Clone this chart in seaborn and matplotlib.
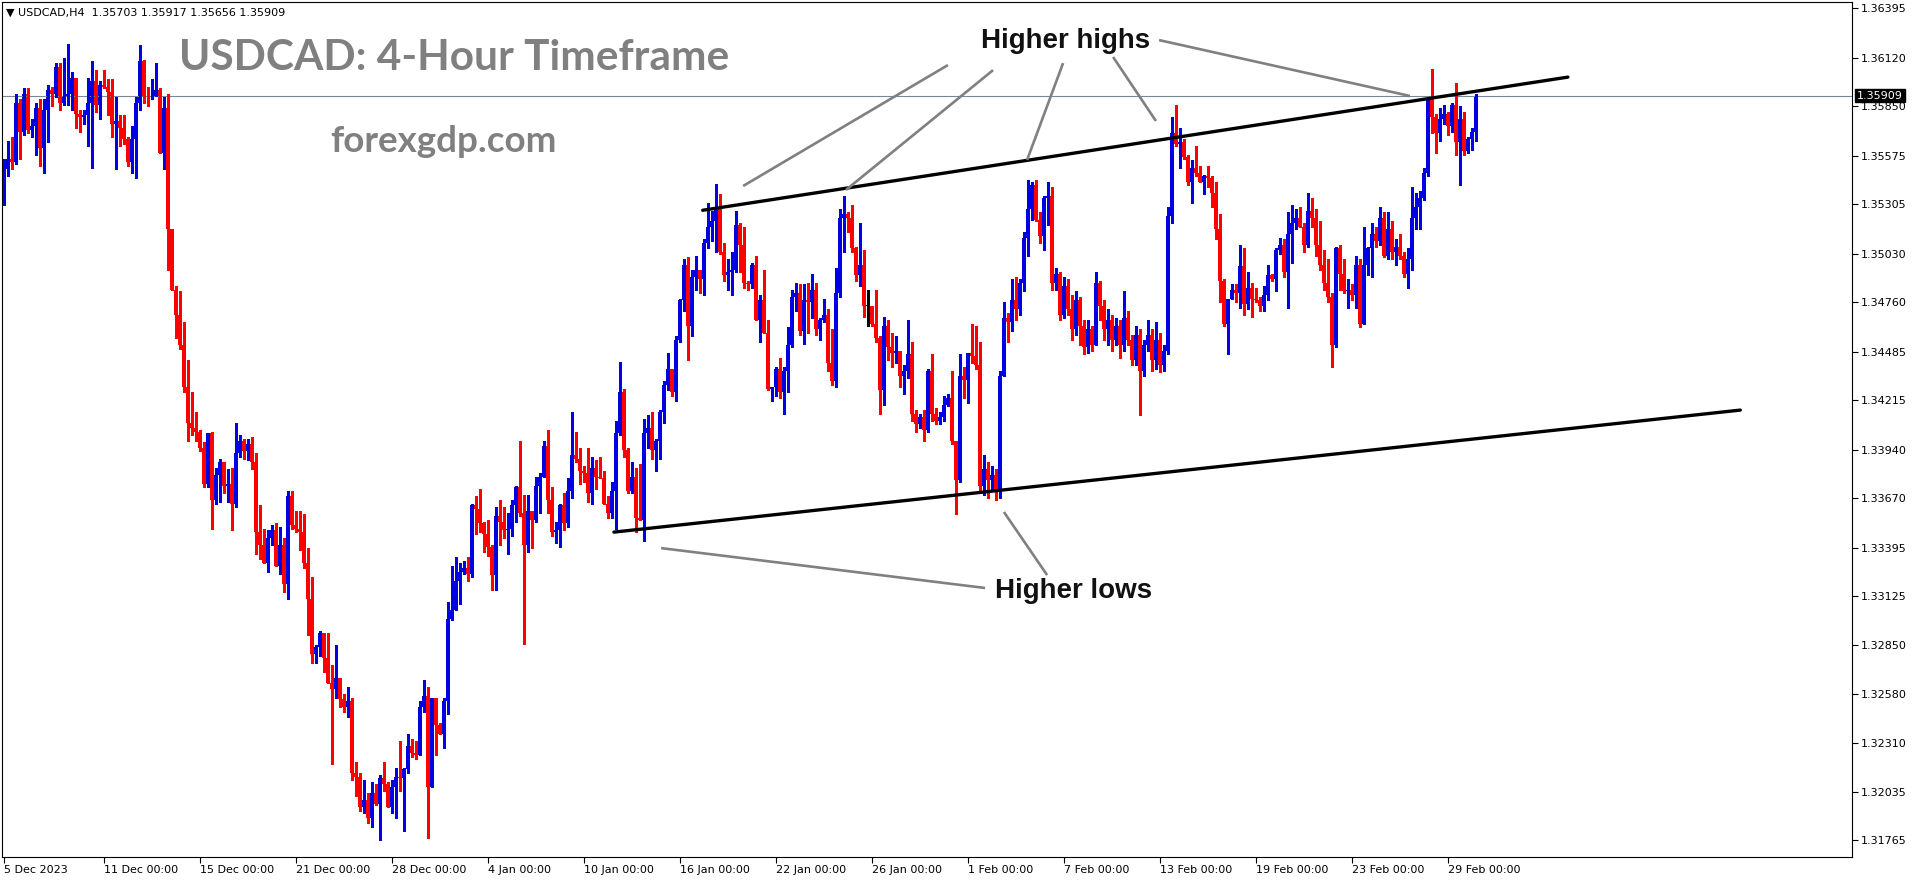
import numpy as np
import pandas as pd
import matplotlib
matplotlib.use("Agg")
import matplotlib.pyplot as plt
import matplotlib.transforms as mtransforms
import seaborn as sns

W, H = 1916, 884
sns.set_theme(style="white")
plt.rcParams['font.family'] = ['DejaVu Sans']

# USDCAD H4 candles (open = previous close)
first_open = 1.3536
closes = [
    1.3550, 1.3556, 1.3554, 1.3587, 1.3571, 1.3592, 1.3572, 1.3574, 1.3584, 1.3562,
    1.3583, 1.3594, 1.3592, 1.3607, 1.3587, 1.3591, 1.3592, 1.3601, 1.3581, 1.3579,
    1.3580, 1.3587, 1.3599, 1.3586, 1.3597, 1.3596, 1.3593, 1.3575, 1.3577, 1.3573,
    1.3567, 1.3554, 1.3567, 1.3587, 1.3610, 1.3591, 1.3590, 1.3591, 1.3594, 1.3559,
    1.3584, 1.3517, 1.3483, 1.3469, 1.3452, 1.3429, 1.3409, 1.3406, 1.3404, 1.3395,
    1.3375, 1.3403, 1.3366, 1.3380, 1.3387, 1.3374, 1.3375, 1.3364, 1.3392, 1.3399,
    1.3393, 1.3397, 1.3387, 1.3348, 1.3341, 1.3331, 1.3345, 1.3349, 1.3329, 1.3341,
    1.3319, 1.3368, 1.3352, 1.3350, 1.3348, 1.3331, 1.3311, 1.3280, 1.3284, 1.3292,
    1.3278, 1.3264, 1.3261, 1.3267, 1.3255, 1.3251, 1.3254, 1.3214, 1.3212, 1.3195,
    1.3199, 1.3189, 1.3203, 1.3197, 1.3211, 1.3208, 1.3195, 1.3206, 1.3212, 1.3211,
    1.3216, 1.3229, 1.3225, 1.3224, 1.3251, 1.3257, 1.3206, 1.3256, 1.3241, 1.3236,
    1.3254, 1.3300, 1.3305, 1.3321, 1.3326, 1.3328, 1.3325, 1.3363, 1.3361, 1.3353,
    1.3347, 1.3340, 1.3324, 1.3357, 1.3354, 1.3349, 1.3350, 1.3363, 1.3373, 1.3359,
    1.3341, 1.3360, 1.3355, 1.3374, 1.3379, 1.3396, 1.3366, 1.3348, 1.3349, 1.3363,
    1.3353, 1.3371, 1.3391, 1.3389, 1.3382, 1.3381, 1.3370, 1.3384, 1.3379, 1.3378,
    1.3364, 1.3359, 1.3371, 1.3403, 1.3426, 1.3394, 1.3371, 1.3379, 1.3356, 1.3355,
    1.3403, 1.3406, 1.3394, 1.3399, 1.3415, 1.3430, 1.3439, 1.3426, 1.3455, 1.3477,
    1.3497, 1.3463, 1.3490, 1.3494, 1.3489, 1.3509, 1.3518, 1.3521, 1.3528, 1.3504,
    1.3491, 1.3493, 1.3494, 1.3519, 1.3508, 1.3487, 1.3486, 1.3497, 1.3466, 1.3477,
    1.3459, 1.3428, 1.3429, 1.3439, 1.3426, 1.3438, 1.3452, 1.3479, 1.3481, 1.3460,
    1.3477, 1.3476, 1.3483, 1.3461, 1.3466, 1.3469, 1.3442, 1.3432, 1.3481, 1.3523,
    1.3525, 1.3523, 1.3506, 1.3491, 1.3497, 1.3474, 1.3474, 1.3464, 1.3456, 1.3427,
    1.3463, 1.3451, 1.3448, 1.3449, 1.3435, 1.3438, 1.3447, 1.3414, 1.3408, 1.3412,
    1.3405, 1.3438, 1.3414, 1.3410, 1.3412, 1.3419, 1.3423, 1.3399, 1.3377, 1.3435,
    1.3433, 1.3448, 1.3446, 1.3441, 1.3374, 1.3383, 1.3377, 1.3380, 1.3371, 1.3435,
    1.3467, 1.3465, 1.3477, 1.3472, 1.3487, 1.3512, 1.3528, 1.3541, 1.3522, 1.3513,
    1.3534, 1.3535, 1.3487, 1.3492, 1.3469, 1.3485, 1.3472, 1.3461, 1.3477, 1.3463,
    1.3451, 1.3461, 1.3452, 1.3487, 1.3474, 1.3461, 1.3466, 1.3455, 1.3463, 1.3452,
    1.3467, 1.3455, 1.3444, 1.3458, 1.3438, 1.3452, 1.3458, 1.3444, 1.3455, 1.3441,
    1.3449, 1.3524, 1.3570, 1.3564, 1.3565, 1.3557, 1.3543, 1.3551, 1.3548, 1.3543,
    1.3546, 1.3545, 1.3537, 1.3517, 1.3488, 1.3464, 1.3478, 1.3483, 1.3481, 1.3496,
    1.3475, 1.3484, 1.3478, 1.3477, 1.3474, 1.3480, 1.3491, 1.3489, 1.3505, 1.3508,
    1.3493, 1.3514, 1.3520, 1.3523, 1.3518, 1.3508, 1.3527, 1.3523, 1.3508, 1.3497,
    1.3487, 1.3479, 1.3452, 1.3506, 1.3492, 1.3482, 1.3483, 1.3480, 1.3497, 1.3464,
    1.3497, 1.3506, 1.3514, 1.3510, 1.3523, 1.3502, 1.3517, 1.3504, 1.3507, 1.3502,
    1.3492, 1.3500, 1.3523, 1.3529, 1.3534, 1.3548, 1.3589, 1.3579, 1.3570, 1.3578,
    1.3581, 1.3574, 1.3586, 1.3565, 1.3578, 1.3560, 1.3567, 1.3571, 1.35909,
]
highs = [
    1.3556, 1.3566, 1.3568, 1.3592, 1.3589, 1.3595, 1.3595, 1.3578, 1.3587, 1.3589,
    1.3589, 1.3597, 1.3596, 1.3609, 1.3609, 1.3612, 1.3620, 1.3604, 1.3601, 1.3583,
    1.3583, 1.3601, 1.3610, 1.3605, 1.3599, 1.3605, 1.3600, 1.3600, 1.3590, 1.3580,
    1.3580, 1.3568, 1.3574, 1.3590, 1.3619, 1.3611, 1.3596, 1.3600, 1.3609, 1.3595,
    1.3590, 1.3592, 1.3516, 1.3485, 1.3482, 1.3465, 1.3444, 1.3426, 1.3415, 1.3405,
    1.3398, 1.3403, 1.3404, 1.3384, 1.3389, 1.3387, 1.3383, 1.3384, 1.3409, 1.3402,
    1.3400, 1.3400, 1.3401, 1.3392, 1.3363, 1.3350, 1.3349, 1.3352, 1.3353, 1.3351,
    1.3345, 1.3371, 1.3371, 1.3360, 1.3360, 1.3358, 1.3339, 1.3323, 1.3285, 1.3293,
    1.3292, 1.3292, 1.3274, 1.3285, 1.3262, 1.3258, 1.3262, 1.3256, 1.3220, 1.3214,
    1.3210, 1.3203, 1.3209, 1.3208, 1.3213, 1.3220, 1.3209, 1.3210, 1.3217, 1.3232,
    1.3217, 1.3236, 1.3233, 1.3232, 1.3254, 1.3266, 1.3262, 1.3256, 1.3250, 1.3242,
    1.3256, 1.3309, 1.3329, 1.3334, 1.3331, 1.3332, 1.3334, 1.3364, 1.3368, 1.3372,
    1.3354, 1.3355, 1.3341, 1.3362, 1.3366, 1.3362, 1.3359, 1.3366, 1.3374, 1.3399,
    1.3369, 1.3369, 1.3357, 1.3379, 1.3381, 1.3399, 1.3405, 1.3373, 1.3354, 1.3364,
    1.3370, 1.3378, 1.3415, 1.3404, 1.3395, 1.3385, 1.3395, 1.3390, 1.3388, 1.3390,
    1.3382, 1.3368, 1.3376, 1.3410, 1.3443, 1.3428, 1.3395, 1.3387, 1.3384, 1.3386,
    1.3411, 1.3413, 1.3415, 1.3400, 1.3416, 1.3432, 1.3448, 1.3439, 1.3457, 1.3478,
    1.3500, 1.3501, 1.3494, 1.3502, 1.3491, 1.3511, 1.3531, 1.3527, 1.3542, 1.3536,
    1.3509, 1.3500, 1.3504, 1.3527, 1.3520, 1.3518, 1.3488, 1.3498, 1.3502, 1.3480,
    1.3494, 1.3466, 1.3429, 1.3440, 1.3445, 1.3440, 1.3462, 1.3483, 1.3487, 1.3486,
    1.3486, 1.3487, 1.3492, 1.3487, 1.3467, 1.3478, 1.3472, 1.3461, 1.3495, 1.3528,
    1.3535, 1.3526, 1.3530, 1.3507, 1.3520, 1.3505, 1.3483, 1.3473, 1.3483, 1.3457,
    1.3468, 1.3466, 1.3459, 1.3457, 1.3449, 1.3441, 1.3466, 1.3454, 1.3416, 1.3414,
    1.3416, 1.3439, 1.3447, 1.3417, 1.3415, 1.3424, 1.3425, 1.3438, 1.3399, 1.3447,
    1.3440, 1.3448, 1.3464, 1.3463, 1.3454, 1.3391, 1.3387, 1.3385, 1.3383, 1.3438,
    1.3476, 1.3470, 1.3489, 1.3490, 1.3489, 1.3515, 1.3544, 1.3543, 1.3544, 1.3526,
    1.3535, 1.3543, 1.3540, 1.3495, 1.3493, 1.3490, 1.3489, 1.3480, 1.3482, 1.3479,
    1.3466, 1.3466, 1.3463, 1.3493, 1.3488, 1.3477, 1.3472, 1.3469, 1.3467, 1.3466,
    1.3482, 1.3471, 1.3458, 1.3463, 1.3461, 1.3455, 1.3466, 1.3461, 1.3465, 1.3459,
    1.3452, 1.3529, 1.3579, 1.3586, 1.3573, 1.3567, 1.3558, 1.3555, 1.3563, 1.3552,
    1.3547, 1.3552, 1.3546, 1.3543, 1.3525, 1.3489, 1.3478, 1.3486, 1.3486, 1.3508,
    1.3506, 1.3493, 1.3487, 1.3484, 1.3479, 1.3485, 1.3497, 1.3492, 1.3506, 1.3512,
    1.3511, 1.3526, 1.3530, 1.3528, 1.3529, 1.3520, 1.3537, 1.3534, 1.3528, 1.3521,
    1.3505, 1.3500, 1.3481, 1.3507, 1.3508, 1.3500, 1.3489, 1.3486, 1.3502, 1.3500,
    1.3518, 1.3507, 1.3520, 1.3518, 1.3529, 1.3526, 1.3526, 1.3521, 1.3511, 1.3514,
    1.3504, 1.3506, 1.3540, 1.3537, 1.3538, 1.3551, 1.3590, 1.3606, 1.3581, 1.3584,
    1.3586, 1.3582, 1.3587, 1.3598, 1.3585, 1.3582, 1.3568, 1.3573, 1.35917,
]
lows = [
    1.3530, 1.3546, 1.3550, 1.3553, 1.3556, 1.3569, 1.3570, 1.3568, 1.3558, 1.3552,
    1.3548, 1.3565, 1.3585, 1.3590, 1.3583, 1.3586, 1.3586, 1.3583, 1.3573, 1.3571,
    1.3575, 1.3563, 1.3551, 1.3582, 1.3578, 1.3595, 1.3580, 1.3568, 1.3550, 1.3563,
    1.3564, 1.3552, 1.3548, 1.3545, 1.3583, 1.3587, 1.3585, 1.3589, 1.3591, 1.3559,
    1.3550, 1.3494, 1.3483, 1.3456, 1.3450, 1.3426, 1.3399, 1.3402, 1.3399, 1.3393,
    1.3373, 1.3373, 1.3350, 1.3364, 1.3365, 1.3370, 1.3365, 1.3349, 1.3362, 1.3390,
    1.3389, 1.3388, 1.3383, 1.3336, 1.3333, 1.3331, 1.3326, 1.3341, 1.3329, 1.3325,
    1.3315, 1.3311, 1.3350, 1.3348, 1.3338, 1.3328, 1.3291, 1.3275, 1.3275, 1.3279,
    1.3270, 1.3264, 1.3219, 1.3256, 1.3251, 1.3248, 1.3245, 1.3210, 1.3201, 1.3193,
    1.3192, 1.3186, 1.3184, 1.3196, 1.3177, 1.3204, 1.3195, 1.3192, 1.3189, 1.3204,
    1.3182, 1.3214, 1.3223, 1.3222, 1.3225, 1.3248, 1.3178, 1.3206, 1.3224, 1.3236,
    1.3228, 1.3247, 1.3299, 1.3305, 1.3308, 1.3325, 1.3321, 1.3323, 1.3347, 1.3348,
    1.3337, 1.3335, 1.3316, 1.3316, 1.3341, 1.3345, 1.3336, 1.3346, 1.3354, 1.3357,
    1.3286, 1.3337, 1.3339, 1.3354, 1.3359, 1.3379, 1.3359, 1.3346, 1.3342, 1.3340,
    1.3349, 1.3351, 1.3367, 1.3387, 1.3375, 1.3376, 1.3365, 1.3364, 1.3372, 1.3378,
    1.3364, 1.3356, 1.3356, 1.3350, 1.3402, 1.3390, 1.3370, 1.3370, 1.3348, 1.3355,
    1.3343, 1.3395, 1.3389, 1.3382, 1.3389, 1.3409, 1.3427, 1.3424, 1.3421, 1.3454,
    1.3471, 1.3444, 1.3457, 1.3483, 1.3481, 1.3480, 1.3506, 1.3510, 1.3504, 1.3503,
    1.3488, 1.3483, 1.3480, 1.3493, 1.3493, 1.3484, 1.3483, 1.3484, 1.3466, 1.3454,
    1.3459, 1.3427, 1.3421, 1.3424, 1.3423, 1.3414, 1.3426, 1.3451, 1.3471, 1.3458,
    1.3453, 1.3459, 1.3467, 1.3458, 1.3455, 1.3465, 1.3438, 1.3430, 1.3429, 1.3479,
    1.3504, 1.3515, 1.3504, 1.3488, 1.3485, 1.3468, 1.3463, 1.3463, 1.3454, 1.3414,
    1.3419, 1.3444, 1.3440, 1.3442, 1.3429, 1.3425, 1.3434, 1.3410, 1.3404, 1.3406,
    1.3399, 1.3404, 1.3410, 1.3408, 1.3408, 1.3410, 1.3418, 1.3397, 1.3358, 1.3376,
    1.3423, 1.3420, 1.3442, 1.3439, 1.3371, 1.3369, 1.3367, 1.3371, 1.3366, 1.3367,
    1.3435, 1.3454, 1.3460, 1.3466, 1.3469, 1.3482, 1.3502, 1.3522, 1.3521, 1.3509,
    1.3505, 1.3519, 1.3483, 1.3483, 1.3466, 1.3467, 1.3469, 1.3455, 1.3458, 1.3452,
    1.3447, 1.3448, 1.3449, 1.3452, 1.3466, 1.3455, 1.3452, 1.3449, 1.3452, 1.3445,
    1.3449, 1.3452, 1.3441, 1.3441, 1.3413, 1.3435, 1.3449, 1.3438, 1.3439, 1.3437,
    1.3438, 1.3447, 1.3520, 1.3563, 1.3551, 1.3556, 1.3541, 1.3531, 1.3546, 1.3543,
    1.3536, 1.3540, 1.3529, 1.3511, 1.3476, 1.3463, 1.3447, 1.3478, 1.3476, 1.3473,
    1.3469, 1.3472, 1.3468, 1.3476, 1.3471, 1.3471, 1.3477, 1.3488, 1.3482, 1.3503,
    1.3490, 1.3473, 1.3498, 1.3517, 1.3518, 1.3504, 1.3507, 1.3518, 1.3502, 1.3494,
    1.3483, 1.3476, 1.3440, 1.3451, 1.3483, 1.3481, 1.3473, 1.3477, 1.3473, 1.3462,
    1.3464, 1.3491, 1.3490, 1.3507, 1.3508, 1.3501, 1.3500, 1.3500, 1.3497, 1.3500,
    1.3490, 1.3484, 1.3494, 1.3517, 1.3517, 1.3533, 1.3546, 1.3570, 1.3559, 1.3566,
    1.3575, 1.3569, 1.3571, 1.3558, 1.3541, 1.3558, 1.3559, 1.3561, 1.35656,
]
assert len(closes) == len(highs) == len(lows)

x_tick_bars = [0, 25, 49, 73, 97, 121, 145, 169, 193, 217, 241, 265, 289, 313, 337, 361]
x_tick_labels = ["5 Dec 2023", "11 Dec 00:00", "15 Dec 00:00", "21 Dec 00:00",
                 "28 Dec 00:00", "4 Jan 00:00", "10 Jan 00:00", "16 Jan 00:00",
                 "22 Jan 00:00", "26 Jan 00:00", "1 Feb 00:00", "7 Feb 00:00",
                 "13 Feb 00:00", "19 Feb 00:00", "23 Feb 00:00", "29 Feb 00:00"]
y_tick_values = [1.36395, 1.36120, 1.35850, 1.35575, 1.35305, 1.35030, 1.34760,
                 1.34485, 1.34215, 1.33940, 1.33670, 1.33395, 1.33125, 1.32850,
                 1.32580, 1.32310, 1.32035, 1.31765]
last_price = 1.35909
header = "\u25bc USDCAD,H4  1.35703 1.35917 1.35656 1.35909"

# trend lines drawn on the chart: (bar, price) anchors
upper_line = ([174.8, 391.1], [1.35272, 1.36013])
lower_line = ([152.6, 434.2], [1.33481, 1.34160])
highs_pointers = [
    ([184.9, 236.1], [1.35407, 1.36080]),
    ([210.6, 247.4], [1.35385, 1.36052]),
    ([255.9, 264.9], [1.35552, 1.36091]),
    ([288.1, 277.4], [1.35769, 1.36125]),
    ([351.6, 288.9], [1.35908, 1.36219]),
]
lows_pointers = [
    ([164.4, 245.4], [1.33392, 1.33170]),
    ([250.1, 260.9], [1.33593, 1.33242]),
]

df = pd.DataFrame({"close": closes, "high": highs, "low": lows})
df["open"] = [first_open] + closes[:-1]
df["bar"] = np.arange(len(df))
up = df["close"] > df["open"]
down = df["close"] < df["open"]
colors = np.where(up, "#0000E0", np.where(down, "#FF0000", "#000000"))
body_lo = df[["open", "close"]].min(axis=1)
body_h = (df["close"] - df["open"]).abs().clip(lower=0.00004)
wick_hi = np.maximum(df["high"], df[["open", "close"]].max(axis=1))
wick_lo = np.minimum(df["low"], body_lo)

fig = plt.figure(figsize=(W / 100, H / 100), dpi=100)
fig.patch.set_facecolor("white")
ax = fig.add_axes([2 / W, 1 - 857 / H, 1850 / W, 855 / H])
ax.set_facecolor("white")

ax.vlines(df["bar"], wick_lo, wick_hi, colors=colors, linewidth=0.8, antialiased=False)
ax.bar(df["bar"], body_h, bottom=body_lo, width=0.82, color=colors,
       linewidth=0, antialiased=False)

ax.axhline(last_price, color="#778899", linewidth=0.8, zorder=1)

# trend lines
sns.lineplot(x=upper_line[0], y=upper_line[1], ax=ax, color="black", linewidth=2.4)
sns.lineplot(x=lower_line[0], y=lower_line[1], ax=ax, color="black", linewidth=2.4)
for xs, ys in highs_pointers + lows_pointers:
    ax.plot(xs, ys, color="#808080", linewidth=1.9, solid_capstyle="butt")

ax.text(265.4, 1.36214, "Higher highs", fontsize=20, fontweight="bold",
        family="Liberation Sans", color="#111111", ha="center", va="center")
ax.text(267.4, 1.33153, "Higher lows", fontsize=20, fontweight="bold",
        family="Liberation Sans", color="#111111", ha="center", va="center")

ax.set_xlim(-0.375, 462.125)
ax.set_ylim(1.31673, 1.36431)

ax.yaxis.tick_right()
ax.set_yticks(y_tick_values)
ax.set_yticklabels([f"{v:.5f}" for v in y_tick_values])
ax.set_xticks(x_tick_bars)
ax.set_xticklabels(x_tick_labels, ha="left")
ax.tick_params(axis="y", which="major", right=True, left=False, direction="out",
               length=4, width=0.8, pad=2, labelsize=8, colors="black")
ax.tick_params(axis="x", which="major", bottom=True, direction="out",
               length=4, width=0.8, pad=2, labelsize=8, colors="black")
for s in ax.spines.values():
    s.set_color("black")
    s.set_linewidth(0.8)
ax.grid(False)

trans = mtransforms.blended_transform_factory(ax.transAxes, ax.transData)
ax.text(1.0 + 5 / 1850, last_price, f"{last_price:.5f}", transform=trans, fontsize=8,
        color="white", ha="left", va="center",
        bbox=dict(boxstyle="square,pad=0.15", fc="black", ec="black"))

fig.text(6 / W, 1 - 13 / H, header, fontsize=8, va="center", ha="left", color="black")
fig.text(454.5 / W, 1 - 57.5 / H, "USDCAD: 4-Hour Timeframe", fontsize=30.5,
         fontweight="bold", family="Lato", color="#808080", ha="center", va="center")
fig.text(443.5 / W, 1 - 142 / H, "forexgdp.com", fontsize=26.5,
         fontweight="bold", family="Lato", color="#808080", ha="center", va="center")

fig.savefig("out.png", dpi=100, facecolor="white")
